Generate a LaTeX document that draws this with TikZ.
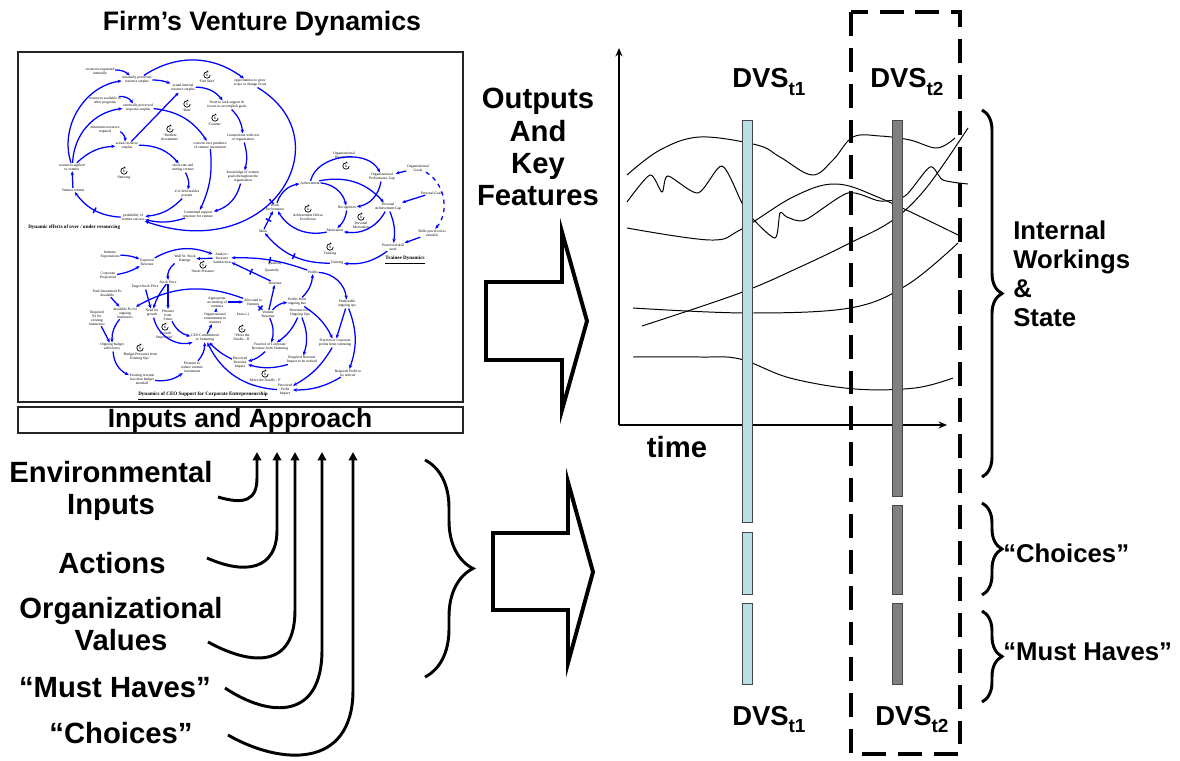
\documentclass[tikz,border=0pt]{standalone}
\usepackage{fontspec}
\setmainfont{Liberation Sans}
\newfontfamily\clfont{Liberation Serif}
\usetikzlibrary{arrows.meta,positioning,decorations.pathreplacing,decorations.markings}
\definecolor{barcyan}{RGB}{185,224,228}
\definecolor{bargray}{RGB}{128,128,128}
\definecolor{barline}{RGB}{70,70,70}
\tikzset{
 bigtext/.style={font=\bfseries\fontsize{20.8}{22.8}\selectfont, align=center, inner sep=0pt},
 sidetext/.style={font=\bfseries\fontsize{18.3}{20.6}\selectfont, align=left, inner sep=0pt, anchor=west},
 dvs/.style={font=\bfseries\fontsize{19.5}{22}\selectfont, inner sep=0pt, anchor=base west},
 cl/.style={font=\clfont\fontsize{2.6}{2.9}\selectfont, align=center, inner sep=0.4pt},
 cltitle/.style={font=\clfont\bfseries\fontsize{3.6}{4}\selectfont, inner sep=0pt},
 loopsym/.style={circle, inner sep=0pt, minimum size=0.16cm, font=\clfont\fontsize{2.4}{2.6}\selectfont},
 loopline/.style={black, line width=0.5pt, -{Stealth[length=1.4pt,width=1.4pt]}},
 link/.style={blue, line width=0.9pt, -{Stealth[length=2.8pt,width=2.4pt]}},
 slowlink/.style={link, postaction={decorate}, decoration={markings, mark=at position 0.5 with {\draw[blue,line width=1pt,-] (0,-2.2pt) -- (0,2.2pt);}}},
 feed/.style={line width=2.1pt, -{Triangle[length=6pt,width=6pt]}},
 bigarrow/.style={line width=2.8pt, fill=white, miter limit=10},
 brc/.style={line width=2.1pt, decorate, decoration={brace, amplitude=#1}},
 trend/.style={line width=0.7pt},
 chartaxis/.style={line width=1pt, -{Stealth[length=6pt,width=5pt]}},
 cyanbar/.style={fill=barcyan, draw=barline, line width=0.6pt},
 graybar/.style={fill=bargray, draw=barline, line width=0.6pt},
 dashbox/.style={line width=3.5pt, dash pattern=on 17pt off 8.5pt},
 panel/.style={draw=black!85, line width=1pt}
}
\newcommand{\loopmark}[3]{%
 \node[loopsym] ({#1}) at ({#2}) {R};%
 \draw[loopline] ([shift={(3.2,0)}]#1.center) arc[start angle=0,end angle=300,radius=3.2];%
 \node[cl,below=0.3pt of #1] {#3};%
}
\newcommand{\dvstext}[1]{DVS\raisebox{-5pt}{\fontsize{13.5}{14}\selectfont #1}}

\begin{document}
\begin{tikzpicture}[x=0.025cm,y=-0.025cm]
 \fill[white] (0,0) rectangle (1180,761);
 \useasboundingbox (0,0) rectangle (1180,761);

 \node[font=\bfseries\fontsize{19}{22}\selectfont] (firm) at (262,24) {Firm’s Venture Dynamics};
 \draw[panel] (18,52) rectangle (463,402);
 \draw[panel] (18,407) rectangle (463,433);
 \node[font=\bfseries\fontsize{18.8}{22}\selectfont, inner sep=0pt] (inapp) at (240,421) {Inputs and Approach};

 \node[cl] (rri) at (100,72) {resources requested\\internally};
 \node[cl] (ips) at (137,80) {internally perceived\\resource surplus};
 \node[cl] (ais) at (183,88) {actual internal\\resource surplus};
 \node[cl] (opp) at (250,83) {opportunities to grow\\scope or change focus};
 \node[cl] (rao) at (105,101) {resources available to\\other programs};
 \node[cl] (eps) at (138,108) {externally perceived\\response surplus};
 \node[cl] (nss) at (227,105) {Need to seek support \&\\favors to accomplish goals};
 \node[cl] (mrr) at (105,130) {minimum resources\\required};
 \node[cl] (cwr) at (243,138) {Connections with rest\\of organization};
 \node[cl] (ars) at (127,146) {actual resource\\surplus};
 \node[cl] (cop) at (210,145) {concern over prudence\\of venture investment};
 \node[cl] (rav) at (72,167) {resources applied\\to venture};
 \node[cl] (scc) at (183,168) {short-cuts and\\cutting corners};
 \node[cl] (kvg) at (243,177) {Knowledge of venture\\goals throughout the\\organization};
 \node[cl] (vrt) at (73,190) {Venture returns};
 \node[cl] (ndp) at (187,194) {\# of deliverables\\present};
 \node[cl] (pvs) at (133,217) {probability of\\venture success};
 \node[cl] (css) at (198,214) {Committed support\\structure for venture};
 \node[cltitle, anchor=west] (title1) at (28,227) {Dynamic effects of over / under resourcing};
 \loopmark{fast}{207,75}{‘Fast Start’}
 \loopmark{bust}{187,104}{‘Bust’}
 \loopmark{counter}{215,118}{‘Counter’}
 \loopmark{restless}{170,129}{‘Restless\\Investment’}
 \loopmark{starving}{124,171}{‘Starving’}

 \path[link] (rri) edge[bend left=20] (ips)
  (ips) edge[bend left=10] (ais)
  (ais) edge[bend left=25] (nss)
  (nss) edge[bend left=20] (cwr)
  (cwr) edge[bend left=15] (kvg)
  (kvg) edge[bend left=30] (css)
  (css) edge[bend left=15] (pvs)
  (ndp) edge[bend left=20] (pvs)
  (scc) edge[bend left=20] (ndp)
  (ars) edge[bend left=25] (scc)
  (ars) edge (ais)
  (mrr) edge[bend left=30] (ars)
  (rav) edge[bend left=20] (ars)
  (rav) edge[bend left=40] (eps)
  (rav) edge[bend left=50] (ips)
  (rao) edge[bend left=30] (eps)
  (eps) edge[bend left=25] (cop)
  (cop) edge[bend left=15] (css)
  (pvs) edge[slowlink,bend left=25] (vrt)
  (vrt) edge (rav)
  (ips) edge[bend left=35] (opp);
 \draw[slowlink] (opp) .. controls (345,140) and (270,265) .. (pvs);

 \node[cl] (orec) at (344,156) {Organizational\\Recognition};
 \node[cl] (ogoal) at (418,168) {Organizational\\Goals};
 \node[cl] (opg) at (382,177) {Organizational\\Performance Gap};
 \node[cl] (ach) at (310,183) {Achievement};
 \node[cl] (pgoal) at (432,193) {Personal Goals};
 \node[cl] (wp) at (275,207) {Work\\Performance};
 \node[cl] (rec) at (347,208) {Recognition};
 \node[cl] (pag) at (388,207) {Personal\\Achievement Gap};
 \node[cl] (skl) at (263,231) {Skills};
 \node[cl] (mot) at (335,230) {Motivation};
 \node[cl] (spv) at (432,233) {Skills perceived as\\valuable};
 \node[cl] (psn) at (393,247) {Perceived skill\\need};
 \node[cl] (trn) at (337,263) {Training};
 \node[cltitle] (title2) at (405,260) {\underline{Trainee Dynamics}};
 \loopmark{orecl}{346,166}{}
 \loopmark{ade}{308,209}{Achievement Drives\\Excellence}
 \loopmark{pmot}{361,217}{Personal\\Motivation}
 \loopmark{trl}{330,247}{Training}

 \path[link] (wp) edge[bend left=30] (ach)
  (ach) edge[bend left=35] (rec)
  (ach) edge[bend left=70] (opg)
  (ach) edge[bend left=30] (pag)
  (opg) edge[bend left=35] (rec)
  (ogoal) edge (opg)
  (pgoal) edge (pag)
  (pag) edge[bend left=35] (mot)
  (pag) edge[bend left=15] (psn)
  (rec) edge[bend left=20] (mot)
  (mot) edge[bend left=35] (wp)
  (spv) edge (psn)
  (ogoal) edge[dashed,bend left=50] (spv)
  (psn) edge[bend left=20] (trn)
  (trn) edge[slowlink,bend left=25] (skl)
  (skl) edge[slowlink] (wp);

 \node[cl] (ie) at (110,255) {Industry\\Expectations};
 \node[cl] (er) at (147,262) {Expected\\Revenue};
 \node[cl] (wsr) at (185,259) {Wall St. Stock\\Ratings};
 \node[cl] (ais2) at (222,258) {Analyst /\\Investor\\Satisfaction};
 \node[cl] (q1) at (275,264) {Quarterly};
 \node[cl] (q2) at (272,271) {Quarterly};
 \node[cl] (cp) at (108,276) {Corporate\\Projections};
 \node[cl] (prof) at (313,272) {Profits};
 \node[cl] (rev) at (275,283) {Revenue};
 \node[cl] (sp) at (168,282) {Stock Price};
 \node[cl] (tsp) at (145,287) {Target Stock Price};
 \node[cl] (tia) at (107,293) {Total Investment \$'s\\Available};
 \node[cl] (aav) at (217,302) {Appropriate\\accounting of\\ventures};
 \node[cl] (atv) at (253,302) {Allocated to\\Ventures};
 \node[cl] (pob) at (297,302) {Profits from\\ongoing bus};
 \node[cl] (poo) at (347,304) {Predictable\\ongoing ops};
 \node[cl] (rfe) at (97,318) {Required\\\$'s for\\existing\\businesses};
 \node[cl] (afo) at (125,313) {Available \$'s for\\ongoing\\businesses};
 \node[cl] (nfg) at (152,313) {Need for\\growth};
 \node[cl] (pfs) at (168,315) {Pressure\\from\\Street};
 \node[cl] (oco) at (215,318) {Organizational\\commitment to\\ventures};
 \node[cl] (yrs) at (243,315) {Years (-)};
 \node[cl] (vr) at (268,314) {Venture\\Revenue};
 \node[cl] (roo) at (300,313) {Revenue from\\Ongoing Ops};
 \node[cl] (ceo) at (205,338) {CEO Commitment\\to Venturing};
 \node[cl] (obs) at (112,347) {Ongoing budget\\sufficiency};
 \node[cl] (fcp) at (335,343) {Fraction of corporate\\profits from venturing};
 \node[cl] (fcr) at (270,347) {Fraction of Corporate\\Revenue from Venturing};
 \node[cl] (pri) at (240,363) {Perceived\\Revenue\\Impact};
 \node[cl] (rri2) at (302,360) {Required Revenue\\Impact to be noticed};
 \node[cl] (prv) at (192,367) {Pressure to\\reduce venture\\investment};
 \node[cl] (rpn) at (348,373) {Required Profit to\\be noticed};
 \node[cl] (ers) at (142,379) {Existing revenue\\less than budget\\shortfall};
 \node[cl] (ppi) at (285,390) {Perceived\\Profit\\Impact};
 \node[cltitle] (title3) at (203,396) {\underline{Dynamics of CEO Support for Corporate Entrepreneurship}};
 \loopmark{street}{203,265}{‘Street Pressure’}
 \loopmark{growth}{165,327}{‘Growth\\Imperative’}
 \loopmark{mtnr}{242,329}{‘Move the\\Needle - R’}
 \loopmark{budget}{140,348}{‘Budget Pressures from\\Existing Ops’}
 \loopmark{mtnp}{265,374}{‘Move the Needle - P’}

 \path[link] (ie) edge[bend left=10] (er)
  (cp) edge[bend right=10] (er)
  (er) edge[bend left=25] (ais2)
  (ais2) edge (wsr)
  (wsr) edge[bend right=30] (sp)
  (sp) edge[bend right=10] (nfg)
  (sp) edge (pfs)
  (tsp) edge (nfg)
  (tia) edge (afo)
  (atv) edge[bend right=25] (afo)
  (rfe) edge (obs)
  (afo) edge[bend right=20] (obs)
  (obs) edge[bend right=30] (ers)
  (ers) edge[bend right=20] (prv)
  (prv) edge[bend right=20] (ceo)
  (nfg) edge[bend right=45] (ceo)
  (pfs) edge[bend right=25] (ceo)
  (ceo) edge (oco)
  (oco) edge (aav)
  (aav) edge (atv)
  (atv) edge[slowlink] (vr)
  (vr) edge (rev)
  (vr) edge[bend left=20] (pob)
  (vr) edge[bend left=20] (fcr)
  (roo) edge[bend left=15] (fcr)
  (roo) edge[bend left=20] (rri2)
  (fcr) edge[bend left=15] (pri)
  (rri2) edge[bend left=15] (pri)
  (pri) edge[bend left=10] (ceo)
  (ppi) edge[bend left=30] (ceo)
  (pob) edge[bend right=20] (prof)
  (pob) edge[bend left=15] (fcp)
  (poo) edge (fcp)
  (poo) edge[bend left=20] (rpn)
  (fcp) edge[bend left=15] (ppi)
  (rpn) edge[bend left=15] (ppi)
  (prof) edge[slowlink,bend right=10] (ais2)
  (rev) edge[slowlink] (ais2)
  (prof) edge[bend left=40] (poo);

 \node[bigtext] (env) at (111,491) {Environmental\\Inputs};
 \node[bigtext] (act) at (112,563) {Actions};
 \node[bigtext] (orgv) at (121,624) {Organizational\\Values};
 \node[bigtext] (must) at (115,688) {“Must Haves”};
 \node[bigtext] (choi) at (121,733) {“Choices”};
 \coordinate (s1) at (218,497);
 \coordinate (s2) at (207,558);
 \coordinate (s3) at (208,642);
 \coordinate (s4) at (225,688);
 \coordinate (s5) at (228,735);
 \coordinate (t1) at (257,452);
 \coordinate (t2) at (277,452);
 \coordinate (t3) at (295,452);
 \coordinate (t4) at (322,452);
 \coordinate (t5) at (353,452);
 \draw[feed] (s1) .. controls (245,505) and (257,500) .. (257,478) -- (t1);
 \draw[feed] (s2) .. controls (245,575) and (277,570) .. (277,530) -- (t2);
 \draw[feed] (s3) .. controls (250,665) and (295,670) .. (295,610) -- (t3);
 \draw[feed] (s4) .. controls (270,718) and (322,720) .. (322,650) -- (t4);
 \draw[feed] (s5) .. controls (280,765) and (353,770) .. (353,690) -- (t5);
 \draw[brc=1.2cm] (425,460) -- (425,677);

 \node[bigtext] (outs) at (538,147) {Outputs\\And\\Key\\Features};
 \draw[bigarrow] (486,282) -- (562,282) -- (562,232) -- (587,321) -- (562,410) -- (562,360) -- (486,360) -- cycle;
 \draw[bigarrow] (493,533) -- (568,533) -- (568,482) -- (593,572) -- (568,663) -- (568,610) -- (493,610) -- cycle;

 \coordinate (origin) at (619,425);
 \coordinate (ytop) at (619,48);
 \coordinate (xend) at (947,425);
 \draw[chartaxis] (origin) -- (ytop);
 \draw[chartaxis] (origin) -- (xend);
 \node[bigtext] (timelbl) at (677,447) {time};
 \draw[trend] plot[smooth,tension=0.6] coordinates {(627,175) (660,150) (700,137) (757,145) (780,157) (812,175) (833,160) (853,137) (880,136) (910,140) (937,148) (955,138)};
 \draw[trend] plot[smooth,tension=0.45] coordinates {(627,202) (650,175) (662,192) (668,176) (698,193) (722,166) (742,203) (752,218) (775,238) (780,213) (787,217) (805,220) (848,193) (880,201) (905,196) (930,167) (943,180) (968,184)};
 \draw[trend] plot[smooth,tension=0.6] coordinates {(627,228) (710,240) (740,230) (793,197) (835,184) (880,198) (958,235)};
 \draw[trend] plot[smooth,tension=0.6] coordinates {(642,326) (740,293) (800,267) (850,243) (893,220) (927,187) (968,128)};
 \draw[trend] plot[smooth,tension=0.6] coordinates {(633,308) (747,313) (850,308) (907,285) (958,243)};
 \draw[trend] plot[smooth,tension=0.6] coordinates {(633,357) (700,357) (740,359) (790,378) (855,389) (915,388) (953,378)};

 \foreach \a/\b in {120/522,532/594,603/684}
  \draw[cyanbar] (742,\a) rectangle (752,\b);
 \foreach \a/\b in {120/496,505/594,603/684}
  \draw[graybar] (892,\a) rectangle (902,\b);
 \draw[dashbox] (851,12) rectangle (960,754);

 \node[dvs] (dvs1top) at (732,88) {\dvstext{t1}};
 \node[dvs] (dvs2top) at (870,88) {\dvstext{t2}};
 \node[dvs] (dvs1bot) at (732,725) {\dvstext{t1}};
 \node[dvs] (dvs2bot) at (875,725) {\dvstext{t2}};

 \draw[brc=0.5cm] (982,110) -- (982,477);
 \draw[brc=0.5cm] (982,503) -- (982,595);
 \draw[brc=0.5cm] (982,611) -- (982,702);
 \node[sidetext] (iws) at (1013,274) {Internal\\Workings\\\&\\State};
 \node[sidetext] (rchoi) at (1003,553) {“Choices”};
 \node[sidetext] (rmust) at (1003,652) {“Must Haves”};
\end{tikzpicture}
\end{document}
